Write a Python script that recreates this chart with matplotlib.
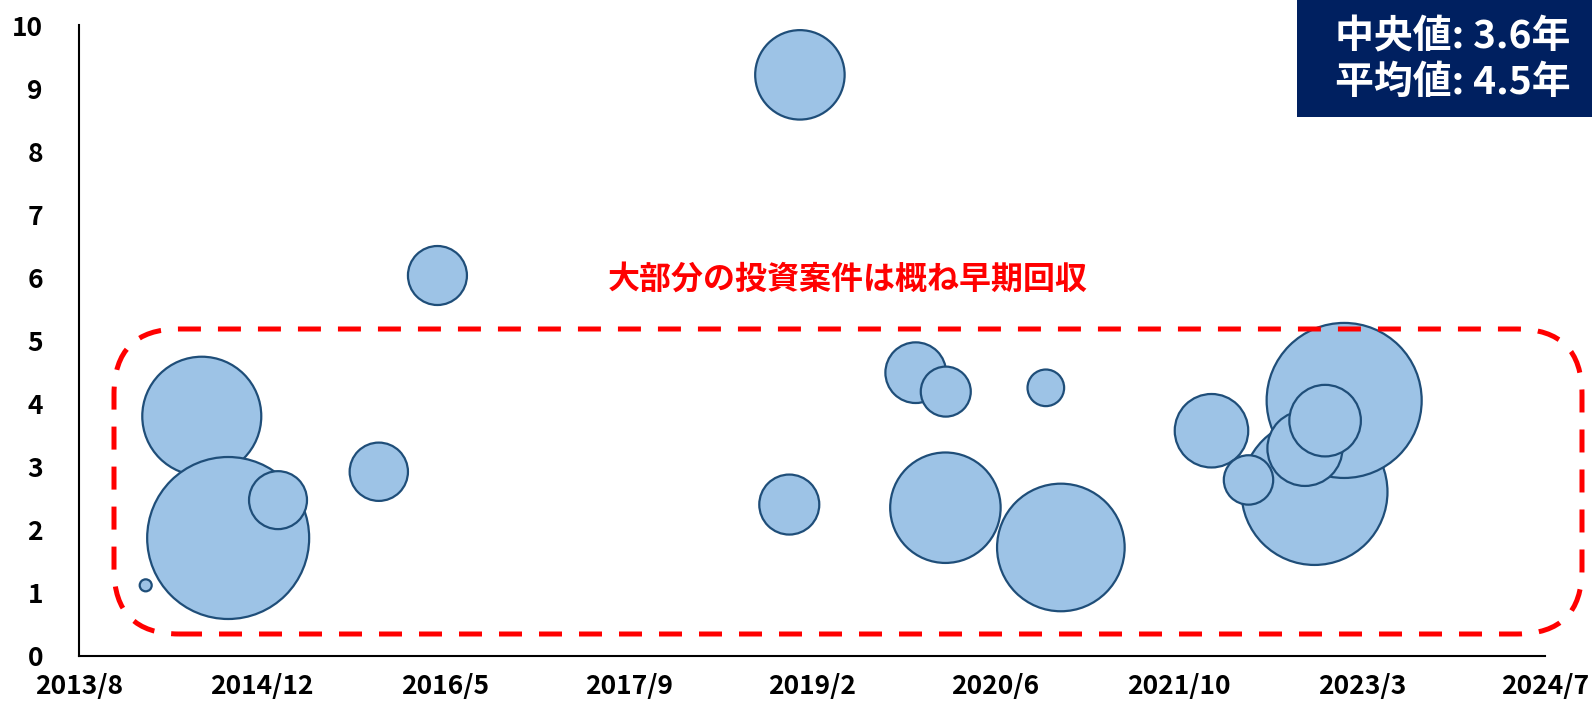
import numpy as np
import pandas as pd
import matplotlib
matplotlib.use('Agg')
import matplotlib.pyplot as plt
import matplotlib.dates as mdates
from matplotlib.patches import FancyBboxPatch, Rectangle

plt.rcParams['font.family'] = ['Noto Sans CJK JP', 'DejaVu Sans']
plt.rcParams['font.weight'] = 'bold'

# investment date, payback years, bubble size (investment amount, arbitrary units)
dates = ['2014-02-11', '2014-07-14', '2014-09-24', '2015-02-07', '2015-11-09',
         '2016-04-17', '2018-12-03', '2019-01-01', '2019-11-13', '2020-02-03',
         '2020-02-02', '2020-11-02', '2020-12-13', '2022-01-28', '2022-11-05',
         '2022-05-09', '2023-01-25', '2022-10-10', '2022-12-04']
years = [1.12, 3.80, 1.87, 2.47, 2.92,
         6.03, 2.40, 9.21, 4.49, 4.19,
         2.35, 4.25, 1.72, 3.57, 2.60,
         2.79, 4.05, 3.29, 3.73]
sizes = [3.6, 354, 656, 84, 85,
         87, 90, 200, 92, 62.5,
         305, 33.5, 407, 135, 533,
         61, 601, 141, 128]

x_start = pd.Timestamp('2013-08-13')
tick_step_days = 500
n_ticks = 9

median_label = '中央値: 3.6年'
mean_label = '平均値: 4.5年'
note_label = '大部分の投資案件は概ね早期回収'

W, H, DPI = 15.92, 7.02, 100
fig = plt.figure(figsize=(W, H), dpi=DPI)
ax = fig.add_axes([79 / 1592, 1 - 656 / 702, 1466 / 1592, 631 / 702])

x = mdates.date2num(pd.to_datetime(dates))
x0 = mdates.date2num(x_start)
ticks = x0 + tick_step_days * np.arange(n_ticks)

# marker area: size unit -> radius^2 = 10*size px^2, convert px to pt
s = 4 * 10 * np.array(sizes) * (72 / DPI) ** 2
ax.scatter(x, years, s=s, facecolor='#9DC3E6', edgecolor='#1F4E79',
           linewidth=1.6, clip_on=False, zorder=3)

ax.set_xlim(ticks[0], ticks[-1])
ax.set_ylim(0, 10)
ax.set_yticks(range(0, 11))
ax.set_xticks(ticks)
ax.set_xticklabels([f'{d.year}/{d.month}' for d in mdates.num2date(ticks)])
ax.tick_params(axis='both', length=0, labelsize=19)
ax.tick_params(axis='y', pad=26)
ax.tick_params(axis='x', pad=12)
for lab in ax.get_xticklabels() + ax.get_yticklabels():
    lab.set_fontweight('bold')

for side in ['top', 'right']:
    ax.spines[side].set_visible(False)
for side in ['left', 'bottom']:
    ax.spines[side].set_linewidth(1.5)
    ax.spines[side].set_color('black')

# dashed rounded frame
px_per_day = 1466 / (tick_step_days * (n_ticks - 1))
px_per_year = 631 / 10
rx0, rx1 = x0 + (114 - 79) / px_per_day, x0 + (1582 - 79) / px_per_day
ry0, ry1 = (656 - 634) / px_per_year, (656 - 329) / px_per_year
rad_px = 65
frame = FancyBboxPatch((rx0, ry0), rx1 - rx0, ry1 - ry0,
                       boxstyle=f'round,pad=0,rounding_size={rad_px / px_per_day}',
                       mutation_aspect=px_per_day / px_per_year,
                       fill=False, edgecolor='#FF0000', linewidth=3.6,
                       linestyle=(0, (4.6, 3.4)), clip_on=False, zorder=4)
ax.add_patch(frame)

ax.text((848 - 79) / 1466, (656 - 280) / 631, note_label, transform=ax.transAxes,
        ha='center', va='center', color='#FF0000', fontsize=23, fontweight='bold')

# summary box
fig.patches.append(Rectangle((1297 / 1592, 1 - 117 / 702), 1 - 1297 / 1592, 117 / 702,
                             transform=fig.transFigure, facecolor='#002060',
                             edgecolor='none', zorder=5))
fig.text(1453 / 1592, 1 - 60 / 702, median_label + '\n' + mean_label,
         ha='center', va='center', color='white', fontsize=28, fontweight='bold',
         linespacing=1.2, zorder=6)

fig.savefig('out.png', dpi=DPI)
